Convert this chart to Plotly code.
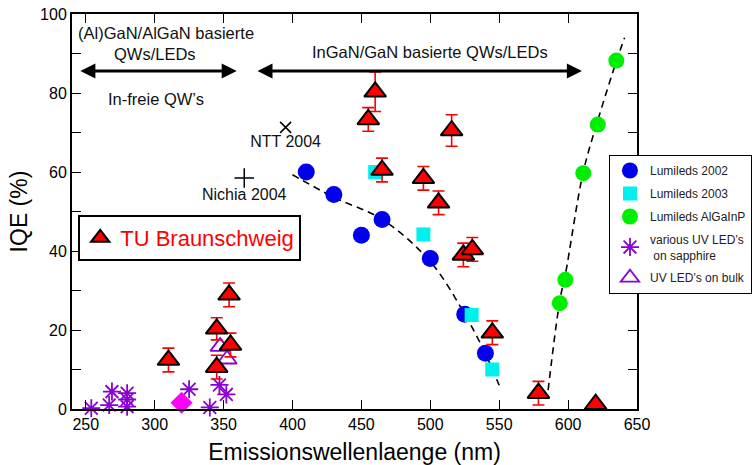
import plotly.graph_objects as go

# ---------------- data ----------------
lum2002_x = [410, 430, 450, 465, 500, 525, 540]
lum2002_y = [60, 54.3, 44, 48, 38.1, 24, 14.1]

lum2003_x = [460, 495, 530, 545]
lum2003_y = [60, 44.2, 23.8, 10]

algainp_x = [594, 598, 611, 621.5, 635]
algainp_y = [26.8, 32.7, 59.7, 72, 88.2]

uv_sapph_x = [254, 267, 269, 280, 280, 280, 325, 340, 347, 352]
uv_sapph_y = [0.2, 1.0, 4.4, 4.0, 2.4, 0.6, 5.0, 0.4, 6.1, 3.7]

uv_bulk_x = [347.5, 352.5]
uv_bulk_y = [15.8, 12.6]

tu_x = [310, 345, 345, 354, 355, 455, 460, 465, 495, 506, 515.5, 524, 530.5, 545, 578.5, 620]
tu_y = [12.4, 10.6, 20.3, 28.9, 16.2, 73.3, 80.3, 60.5, 58.4, 52.2, 70.5, 39, 40.4, 19.3, 4, 1.2]
tu_err = [3, 3, 2.8, 3, 3, 3, 5, 3, 3, 3, 4, 3, 3, 3, 3, 0]

diamond_x = [319.5]
diamond_y = [1.6]

ntt_x, ntt_y = [395], [71.3]
nichia_x, nichia_y = [365], [58.5]

fit_blue_x = [400, 430, 465, 500, 524, 540, 550]
fit_blue_y = [59.3, 53.6, 48, 37.3, 24.6, 14, 6]

fit_green_x = [585.5, 594, 598, 611, 621.5, 635, 641]
fit_green_y = [4.8, 27.5, 34, 60, 73, 88, 94]

xticks = [250, 300, 350, 400, 450, 500, 550, 600, 650]
yticks = [0, 20, 40, 60, 80, 100]

PURPLE = "#8B00D4"
FONT = "Liberation Sans, Arial, sans-serif"

fig = go.Figure()

# dashed fit curves
fig.add_trace(go.Scatter(x=fit_blue_x, y=fit_blue_y, mode="lines", line_shape="spline",
                         line=dict(color="black", width=1.6, dash="7px,5px"), showlegend=False, hoverinfo="skip"))
fig.add_trace(go.Scatter(x=fit_green_x, y=fit_green_y, mode="lines", line_shape="spline",
                         line=dict(color="black", width=1.6, dash="7px,5px"), showlegend=False, hoverinfo="skip"))

fig.add_trace(go.Scatter(x=lum2002_x, y=lum2002_y, mode="markers", name="Lumileds 2002", legendgroup="g1",
                         marker=dict(symbol="circle", size=17, color="#0000EE")))
fig.add_trace(go.Scatter(x=lum2003_x, y=lum2003_y, mode="markers", name="Lumileds 2003", legendgroup="g2",
                         marker=dict(symbol="square", size=14, color="#00F0F0")))
fig.add_trace(go.Scatter(x=algainp_x, y=algainp_y, mode="markers", name="Lumileds AlGaInP", legendgroup="g3",
                         marker=dict(symbol="circle", size=16, color="#00EE00")))
fig.add_trace(go.Scatter(x=uv_sapph_x, y=uv_sapph_y, mode="markers", name="various UV LED’s<br> on sapphire",
                         legendgroup="g4", cliponaxis=False,
                         marker=dict(symbol="asterisk-open", size=15, color=PURPLE, line=dict(color=PURPLE, width=1.8))))
fig.add_trace(go.Scatter(x=uv_bulk_x, y=uv_bulk_y, mode="markers", name="UV LED’s on bulk", legendgroup="g5",
                         marker=dict(symbol="triangle-up-open", size=17, color=PURPLE, line=dict(color=PURPLE, width=1.8))))

fig.add_trace(go.Scatter(x=diamond_x, y=diamond_y, mode="markers", showlegend=False, cliponaxis=False,
                         marker=dict(symbol="diamond", size=17, color="#FF00FF")))

fig.add_trace(go.Scatter(x=tu_x, y=tu_y, mode="markers", name="TU Braunschweig", legend="legend2",
                         cliponaxis=False,
                         error_y=dict(type="data", array=tu_err, visible=True, color="red", thickness=1.6, width=6),
                         marker=dict(symbol="triangle-up", size=19, color="red", line=dict(color="black", width=2))))

fig.add_trace(go.Scatter(x=ntt_x, y=ntt_y, mode="markers+text", text=["NTT 2004"], textposition="bottom center",
                         textfont=dict(size=16, color="#111111", family=FONT), showlegend=False,
                         marker=dict(symbol="x-thin-open", size=11, color="black", line=dict(color="black", width=1.5))))
fig.add_trace(go.Scatter(x=nichia_x, y=nichia_y, mode="markers+text", text=["Nichia 2004"], textposition="bottom center",
                         textfont=dict(size=16, color="#111111", family=FONT), showlegend=False,
                         marker=dict(symbol="cross-thin-open", size=14, color="black", line=dict(color="black", width=1.5))))

# text annotations
ann_font = dict(size=16.5, color="#111111", family=FONT)
anns = [
    dict(x=308.5, y=95.1, text="(Al)GaN/AlGaN basierte"),
    dict(x=300, y=90, text="QWs/LEDs"),
    dict(x=301, y=78.6, text="In-freie QW’s"),
    dict(x=500, y=90.3, text="InGaN/GaN basierte QWs/LEDs"),
]
for a in anns:
    fig.add_annotation(x=a["x"], y=a["y"], text=a["text"], showarrow=False, font=ann_font,
                       xref="x", yref="y")

# double-headed arrows
for (x0, x1) in [(245, 359.5), (373.5, 610)]:
    fig.add_annotation(x=x1, y=85.6, ax=x0, ay=85.6, xref="x", yref="y", axref="x", ayref="y",
                       text="", showarrow=True, arrowhead=2, startarrowhead=2, arrowside="end+start",
                       arrowsize=1.0, startarrowsize=1.0, arrowwidth=3, arrowcolor="black")

axis_common = dict(showline=True, linecolor="black", linewidth=2, mirror="ticks", ticks="inside",
                   tickcolor="black", tickwidth=1.2, ticklen=9, showgrid=False, zeroline=False,
                   ticklabeloverflow="allow",
                   tickfont=dict(size=16, color="black", family=FONT))

fig.update_xaxes(range=[240, 650], tickvals=xticks, ticktext=[str(v) for v in xticks],
                 title=dict(text="Emissionswellenlaenge (nm)", font=dict(size=23, color="black", family=FONT), standoff=12),
                 **axis_common)
fig.update_yaxes(range=[0, 100], tickvals=yticks, ticktext=[str(v) for v in yticks],
                 minor=dict(dtick=10, ticks="inside", ticklen=9, tickcolor="black", tickwidth=1.2),
                 title=dict(text="IQE (%)", font=dict(size=23, color="black", family=FONT), standoff=6),
                 **axis_common)

fig.update_layout(
    width=755, height=465,
    margin=dict(l=72, r=118, t=14, b=56, autoexpand=False),
    paper_bgcolor="white", plot_bgcolor="white",
    font=dict(family=FONT, color="black"),
    legend=dict(x=0.9504, y=0.643, xanchor="left", yanchor="top", bgcolor="white",
                bordercolor="black", borderwidth=1, font=dict(size=12, color="#222222", family=FONT),
                tracegroupgap=4, itemsizing="trace"),
    legend2=dict(x=0.011, y=0.491, xanchor="left", yanchor="top", bgcolor="white",
                 bordercolor="black", borderwidth=2, font=dict(size=22, color="red", family=FONT)),
)

# remove the default 8px page margin so the figure sits at the window's top-left corner
fig.write_html("out.html", config={"displayModeBar": False},
               post_script="document.body.style.margin='0px';")
